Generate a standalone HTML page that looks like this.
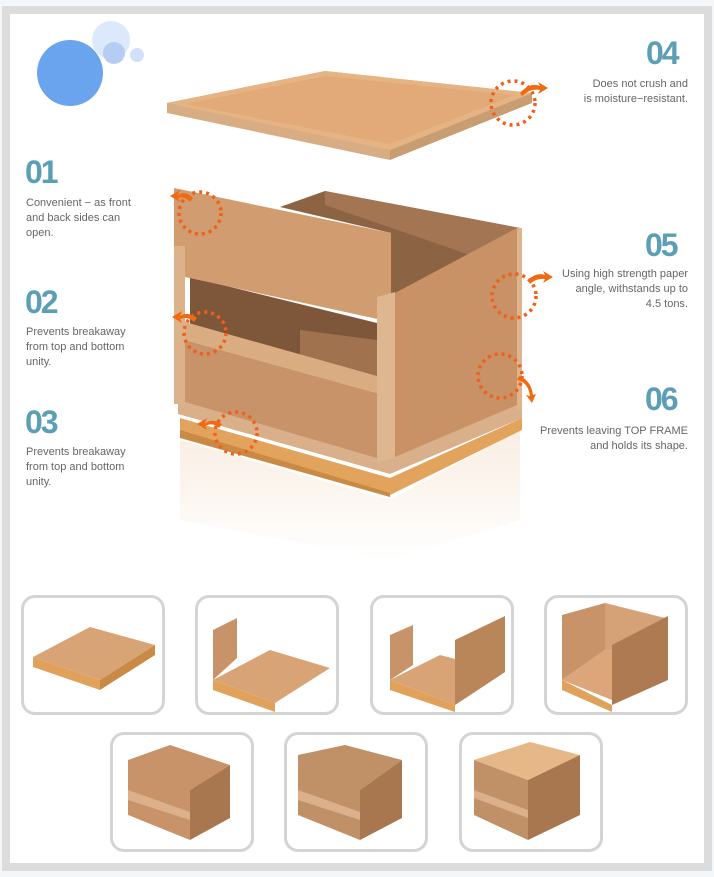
<!DOCTYPE html>
<html><head><style>
html,body{margin:0;padding:0;background:#f4f7f9;}
#wrap{position:relative;width:714px;height:877px;overflow:hidden;font-family:"Liberation Sans",sans-serif;}
#frame{position:absolute;left:2px;top:6px;width:694px;height:849px;border:8px solid #dcdcdc;background:#fff;}
.num{position:absolute;font-size:32px;font-weight:bold;color:#5b9fb6;letter-spacing:-2px;line-height:1;}
.txt{position:absolute;font-size:11px;line-height:15px;color:#666;}
.r{text-align:right;}
.th{position:absolute;width:138px;height:114px;border:3px solid #d4d4d4;border-radius:14px;background:#fff;}
</style></head><body><div id="wrap">
<div id="frame"></div>
<svg style="position:absolute;left:0;top:0" width="714" height="877">
<defs>
<linearGradient id="ref" x1="0" y1="0" x2="0" y2="1"><stop offset="0" stop-color="#f3dcc4"/><stop offset="1" stop-color="#fff"/></linearGradient>
</defs>
<circle cx="111" cy="40" r="19" fill="#dce8fb"/>
<circle cx="114" cy="53" r="11" fill="#b5cdf4"/>
<circle cx="137" cy="55" r="7" fill="#d2e1f9"/>
<circle cx="70" cy="73" r="33" fill="#6aa3ee"/>
<!-- lid -->
<polygon points="167,103 325,71 532,93 390,150 390,160 167,113" fill="#d8ad83"/>
<polygon points="167,103 325,71 532,93 390,150" fill="#e6b483"/>
<polygon points="185,104 326,76 515,95 390,144" fill="#e2aa78"/>
<polygon points="390,150 532,93 532,103 390,160" fill="#c99d72"/>
<!-- reflection -->
<polygon points="180,440 390,500 520,430 520,520 390,560 180,520" fill="url(#ref)" opacity="0.5"/>
<!-- interior -->
<polygon points="280,207 325,191 520,228 391,300 391,233" fill="#8c6444"/>
<polygon points="325,191 520,228 470,255 325,205" fill="#a37552"/>
<!-- pallet -->
<polygon points="180,418 390,478 522,418 522,430 390,495 180,432" fill="#e2a45c"/>
<polygon points="180,430 390,493 390,497 180,438" fill="#c98a45"/>
<!-- base rim -->
<polygon points="178,397 390,457 522,402 522,418 390,474 178,414" fill="#d9b08a"/>
<!-- right face -->
<polygon points="395,293 517,228 517,405 395,457" fill="#c89266"/>
<rect x="517" y="228" width="5" height="182" fill="#ddb48e"/>
<!-- front lower panel -->
<polygon points="185,340 377,393 377,458 185,402" fill="#c9936a"/>
<!-- opening -->
<polygon points="190,277 377,323 377,380 190,325" fill="#7e573a"/>
<polygon points="300,330 377,340 377,380 300,355" fill="#a0724e"/>
<!-- band -->
<polygon points="185,322 377,376 377,393 185,340" fill="#d9ac82"/>
<!-- front top panel -->
<polygon points="174,188 391,233 391,322 185,277 185,247 174,247" fill="#d09c70"/>
<!-- posts -->
<rect x="174" y="246" width="11" height="158" fill="#dcb28a"/>
<polygon points="377,297 395,292 395,458 377,462" fill="#deb690"/>
<!-- dotted circles -->
<g fill="none" stroke="#f0601a" stroke-width="3.5" stroke-dasharray="3,4">
<circle cx="513" cy="103" r="22"/>
<circle cx="200" cy="213" r="21"/>
<circle cx="514" cy="296" r="22"/>
<circle cx="205" cy="333" r="21"/>
<circle cx="500" cy="376" r="22"/>
<circle cx="236" cy="433" r="21"/>
</g>
<g fill="#f06a10">
<path d="M520,93 Q530,82 540,86 L538,82 L548,88 L538,94 L540,90 Q530,88 522,96Z"/>
<path d="M193,198 Q185,190 178,195 L180,190 L170,196 L180,202 L178,198 Q185,196 190,202Z"/>
<path d="M528,280 Q536,272 545,275 L543,271 L553,277 L543,283 L545,279 Q536,278 530,284Z"/>
<path d="M197,318 Q188,311 180,316 L182,311 L172,317 L182,323 L180,319 Q188,316 194,322Z"/>
<path d="M517,380 Q528,382 530,396 L526,395 L532,403 L536,394 L533,395 Q531,380 519,376Z"/>
<path d="M222,424 Q213,418 205,423 L207,418 L197,424 L207,430 L205,426 Q213,422 219,428Z"/>
</g>
</svg>
<div class="num" style="left:646px;top:37px">04</div>
<div class="txt r" style="right:26px;top:77px">Does not crush and<br>is moisture−resistant.</div>
<div class="num" style="left:25px;top:156px">01</div>
<div class="txt" style="left:26px;top:196px">Convenient − as front<br>and back sides can<br>open.</div>
<div class="num" style="left:25px;top:286px">02</div>
<div class="txt" style="left:26px;top:325px">Prevents breakaway<br>from top and bottom<br>unity.</div>
<div class="num" style="left:25px;top:406px">03</div>
<div class="txt" style="left:26px;top:445px">Prevents breakaway<br>from top and bottom<br>unity.</div>
<div class="num" style="left:645px;top:229px">05</div>
<div class="txt r" style="right:26px;top:267px">Using high strength paper<br>angle, withstands up to<br>4.5 tons.</div>
<div class="num" style="left:645px;top:383px">06</div>
<div class="txt r" style="right:26px;top:424px">Prevents leaving TOP FRAME<br>and holds its shape.</div>

<div class="th" style="left:21px;top:595px"></div>
<div class="th" style="left:195px;top:595px"></div>
<div class="th" style="left:370px;top:595px"></div>
<div class="th" style="left:544px;top:595px"></div>
<div class="th" style="left:110px;top:732px"></div>
<div class="th" style="left:284px;top:732px"></div>
<div class="th" style="left:459px;top:732px"></div>
<svg style="position:absolute;left:0;top:0" width="714" height="877">
<g>
<polygon points="33,657 90,627 155,645 100,680" fill="#d9a475"/><polygon points="33,657 100,680 100,690 33,667" fill="#e0a25a"/><polygon points="100,680 155,645 155,655 100,690" fill="#c98a45"/>
<polygon points="213,680 270,650 330,668 275,703" fill="#d9a475"/><polygon points="213,630 237,618 237,658 213,680" fill="#c9936a"/><polygon points="213,680 275,703 275,712 213,690" fill="#e0a25a"/>
<polygon points="390,680 440,655 505,672 455,705" fill="#d9a475"/><polygon points="390,635 413,625 413,665 390,680" fill="#c9936a"/><polygon points="455,640 505,616 505,672 455,705" fill="#b98659"/><polygon points="390,680 455,705 455,712 390,690" fill="#e0a25a"/>
<polygon points="562,615 605,603 605,650 562,680" fill="#c9936a"/><polygon points="605,603 665,618 665,660 605,650" fill="#d5a277"/><polygon points="562,680 605,650 665,660 612,700" fill="#dca67a"/><polygon points="612,645 668,616 668,680 612,705" fill="#ad7a52"/><polygon points="562,680 612,705 612,712 562,690" fill="#e0a25a"/>
<polygon points="128,760 170,745 230,765 190,790 190,840 128,815" fill="#c9936a"/><polygon points="190,790 230,765 230,818 190,840" fill="#a9774f"/><polygon points="128,790 190,812 190,820 128,800" fill="#dcb08a"/>
<polygon points="298,755 345,745 402,760 360,790 360,840 298,815" fill="#c09066"/><polygon points="360,790 402,760 402,818 360,840" fill="#a9774f"/><polygon points="298,790 360,812 360,820 298,800" fill="#dcb08a"/>
<polygon points="474,760 530,742 580,755 528,780" fill="#e6b888"/><polygon points="474,760 528,780 528,840 474,815" fill="#c09066"/><polygon points="528,780 580,755 580,815 528,840" fill="#a9774f"/><polygon points="474,790 528,810 528,818 474,798" fill="#dcb08a"/>
</g>
</svg>
</div></body></html>
